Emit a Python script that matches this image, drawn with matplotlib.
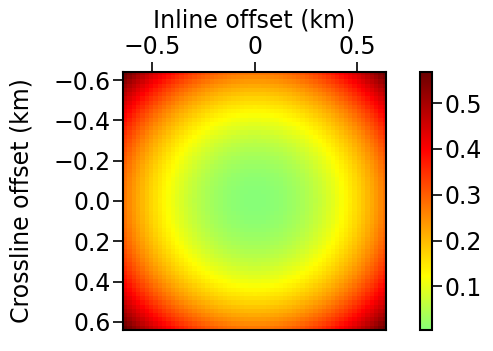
import numpy as np
import matplotlib
matplotlib.use("Agg")
import matplotlib.pyplot as plt
from matplotlib.colors import LinearSegmentedColormap

# grid of offsets (km), 61 x 61 samples
n_samples = 61
d_offset = 0.021
inline = (np.arange(n_samples) - n_samples // 2) * d_offset
crossline = (np.arange(n_samples) - n_samples // 2) * d_offset

# values
center_value = 0.005      # green at zero offset
edge_value = 0.27         # orange at (0.63, 0) and (0, 0.63)
corner_value = 0.568      # dark red at the corners

xticks = [-0.5, 0, 0.5]
xtick_labels = ["\u22120.5", "0", "0.5"]
yticks = [-0.6, -0.4, -0.2, 0.0, 0.2, 0.4, 0.6]
ytick_labels = ["\u22120.6", "\u22120.4", "\u22120.2", "0.0", "0.2", "0.4", "0.6"]
cbar_ticks = [0.1, 0.2, 0.3, 0.4, 0.5]

# radial model f = c + a r^2 + b r^4 fitted to the three read values
r_edge = inline.max()
r_corner = inline.max() * np.sqrt(2)
A = np.array([[r_edge**2, r_edge**4], [r_corner**2, r_corner**4]])
a, b = np.linalg.solve(A, [edge_value - center_value, corner_value - center_value])
X, Y = np.meshgrid(inline, crossline)
R2 = X**2 + Y**2
field = center_value + a * R2 + b * R2**2

cmap = LinearSegmentedColormap.from_list("gyr", [
    (0.00, (0.53, 1.00, 0.47)),
    (0.21, (1.00, 1.00, 0.00)),
    (0.46, (1.00, 0.50, 0.00)),
    (0.70, (1.00, 0.00, 0.00)),
    (1.00, (0.42, 0.00, 0.00)),
])

fig = plt.figure(figsize=(4.93, 3.51), dpi=100)
ax = fig.add_axes([0.2495, 0.0598, 0.5335, 0.7352])
cax = fig.add_axes([0.852, 0.0598, 0.024, 0.7352])

half = n_samples // 2 * d_offset + d_offset / 2
im = ax.imshow(field, cmap=cmap, extent=(-half, half, half, -half),
               aspect="auto", interpolation="nearest",
               vmin=field.min(), vmax=field.max())

fs = 17
ax.xaxis.tick_top()
ax.xaxis.set_label_position("top")
ax.set_xticks(xticks)
ax.set_xticklabels(xtick_labels)
ax.set_yticks(yticks)
ax.set_yticklabels(ytick_labels)
ax.tick_params(axis="both", direction="out", length=7, width=1.2, labelsize=fs,
               pad=2)
ax.set_xlabel("Inline offset (km)", fontsize=fs, labelpad=6)
ax.set_ylabel("Crossline offset (km)", fontsize=fs, labelpad=14)
for s in ax.spines.values():
    s.set_linewidth(1.5)

cb = fig.colorbar(im, cax=cax)
cb.set_ticks(cbar_ticks)
cb.set_ticklabels(["%.1f" % t for t in cbar_ticks])
cb.ax.tick_params(direction="out", length=7, width=1.2, labelsize=fs, pad=2)
cb.outline.set_linewidth(1.5)

fig.savefig("out.png", dpi=100)
